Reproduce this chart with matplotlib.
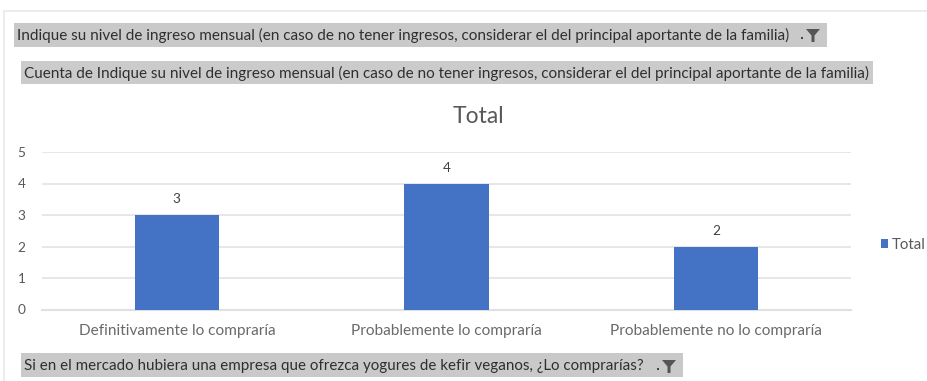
import matplotlib
matplotlib.use("Agg")
import matplotlib.pyplot as plt
from matplotlib.patches import Rectangle, Polygon

categories = ["Definitivamente lo compraría", "Probablemente lo compraría", "Probablemente no lo compraría"]
values = [3, 4, 2]
series_name = "Total"
yticks = [0, 1, 2, 3, 4, 5]
filter_top = "Indique su nivel de ingreso mensual (en caso de no tener ingresos, considerar el del principal aportante de la familia)"
value_field = "Cuenta de Indique su nivel de ingreso mensual (en caso de no tener ingresos, considerar el del principal aportante de la familia)"
axis_field = "Si en el mercado hubiera una empresa que ofrezca yogures de kefir veganos, ¿Lo comprarías?"

W, H = 927, 381
plt.rcParams["font.family"] = ["Lato", "DejaVu Sans"]
fig = plt.figure(figsize=(W / 100, H / 100), dpi=100, facecolor="white")


def fx(x):
    return x / W


def fy(y):
    return 1 - y / H


def frect(x0, y0, x1, y1, **kw):
    fig.add_artist(Rectangle((fx(x0), fy(y1)), (x1 - x0) / W, (y1 - y0) / H,
                             transform=fig.transFigure, **kw))


def fit_text(x0, x1, yc, s, size=10, color="#2f2f2f"):
    t = fig.text(fx(x0), fy(yc), s, fontsize=size, color=color, va="center", ha="left")
    r = fig.canvas.get_renderer()
    w = t.get_window_extent(r).width
    t.set_fontsize(size * (x1 - x0) / w)
    return t


def funnel(cx, yc):
    pts = [(cx - 7, yc - 6), (cx + 7, yc - 6), (cx + 1.5, yc + 0.5), (cx + 1.5, yc + 7), (cx - 1.5, yc + 7), (cx - 1.5, yc + 0.5)]
    fig.add_artist(Polygon([(fx(a), fy(b)) for a, b in pts], transform=fig.transFigure,
                           facecolor="#555555", edgecolor="none"))
    frect(cx - 12, yc + 2, cx - 10, yc + 4, facecolor="#444444", edgecolor="none")


# screenshot border
frect(3, 10, W, 12, facecolor="#ececec", edgecolor="none")
frect(3, 10, 5, H, facecolor="#ececec", edgecolor="none")

# field buttons
frect(14, 23, 827, 47, facecolor="#c9c9c9", edgecolor="none")
fit_text(17, 788, 35, filter_top)
funnel(813, 35)
frect(21, 61, 873, 84, facecolor="#cbcbcb", edgecolor="none")
fit_text(24, 869, 73, value_field)
frect(21, 353, 683, 377, facecolor="#c9c9c9", edgecolor="none")
fit_text(24, 642, 366, axis_field)
funnel(669, 366)

# chart
ax = fig.add_axes([fx(42), fy(309.5), (851 - 42) / W, (309.5 - 152) / H])
x = list(range(len(categories)))
bars = ax.bar(x, values, width=0.312, color="#4472c4", zorder=3, label=series_name)
ax.set_xlim(-0.5, 2.5)
ax.set_ylim(0, 5)
ax.set_yticks(yticks)
ax.set_xticks(x, categories)
ax.grid(axis="y", color="#e3e3e3", linewidth=1.2, zorder=0)
ax.tick_params(length=0)
ax.tick_params(axis="y", labelsize=9.8, labelcolor="#595959", pad=12)
ax.tick_params(axis="x", labelsize=11.1, labelcolor="#6a6a6a", pad=10.5)
for s in ["top", "right", "left"]:
    ax.spines[s].set_visible(False)
ax.spines["bottom"].set_color("#e0e0e0")
ax.spines["bottom"].set_linewidth(1.5)
ax.bar_label(bars, labels=[str(v) for v in values], padding=7, fontsize=9.8, color="#404040")

fig.text(fx(478), fy(116.5), series_name, fontsize=16.5, color="#595959", ha="center", va="center")
ax.legend(loc="center left", bbox_to_anchor=(fx(881), fy(245)), bbox_transform=fig.transFigure,
          frameon=False, fontsize=10.8, labelcolor="#595959", handlelength=0.45, handleheight=0.5,
          handletextpad=0.3, borderpad=0, borderaxespad=0)

fig.savefig("out.png", dpi=100, facecolor="white")
